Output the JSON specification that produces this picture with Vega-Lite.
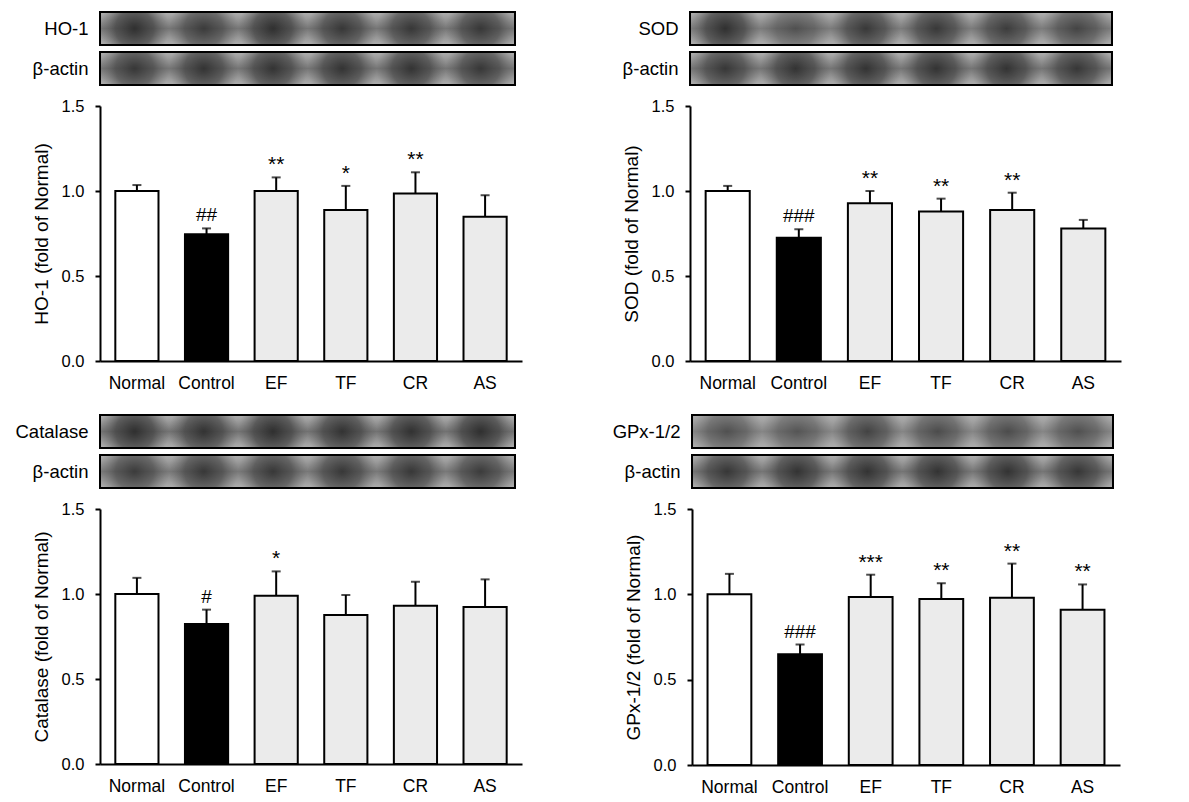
{
  "$schema": "https://vega.github.io/schema/vega-lite/v6.json",
  "padding": {"left": 14, "top": 11, "right": 5, "bottom": 5},
  "background": "white",
  "config": {
    "font": "Liberation Sans",
    "view": {"stroke": null},
    "axis": {"labelColor": "black", "titleColor": "black", "domainColor": "black", "tickColor": "black", "grid": false, "labelFont": "Liberation Sans", "titleFont": "Liberation Sans"}
  },
  "datasets": {
    "bars": [
      {"panel": "HO-1", "group": "Normal", "mean": 1.0, "upper": 1.035, "sig": ""},
      {"panel": "HO-1", "group": "Control", "mean": 0.745, "upper": 0.78, "sig": "##"},
      {"panel": "HO-1", "group": "EF", "mean": 1.0, "upper": 1.08, "sig": "**"},
      {"panel": "HO-1", "group": "TF", "mean": 0.888, "upper": 1.03, "sig": "*"},
      {"panel": "HO-1", "group": "CR", "mean": 0.985, "upper": 1.11, "sig": "**"},
      {"panel": "HO-1", "group": "AS", "mean": 0.848, "upper": 0.975, "sig": ""},
      {"panel": "SOD", "group": "Normal", "mean": 1.0, "upper": 1.03, "sig": ""},
      {"panel": "SOD", "group": "Control", "mean": 0.725, "upper": 0.775, "sig": "###"},
      {"panel": "SOD", "group": "EF", "mean": 0.928, "upper": 1.0, "sig": "**"},
      {"panel": "SOD", "group": "TF", "mean": 0.88, "upper": 0.955, "sig": "**"},
      {"panel": "SOD", "group": "CR", "mean": 0.888, "upper": 0.99, "sig": "**"},
      {"panel": "SOD", "group": "AS", "mean": 0.78, "upper": 0.83, "sig": ""},
      {"panel": "Catalase", "group": "Normal", "mean": 1.0, "upper": 1.095, "sig": ""},
      {"panel": "Catalase", "group": "Control", "mean": 0.824, "upper": 0.908, "sig": "#"},
      {"panel": "Catalase", "group": "EF", "mean": 0.99, "upper": 1.133, "sig": "*"},
      {"panel": "Catalase", "group": "TF", "mean": 0.876, "upper": 0.994, "sig": ""},
      {"panel": "Catalase", "group": "CR", "mean": 0.931, "upper": 1.072, "sig": ""},
      {"panel": "Catalase", "group": "AS", "mean": 0.924, "upper": 1.086, "sig": ""},
      {"panel": "GPx-1/2", "group": "Normal", "mean": 1.0, "upper": 1.12, "sig": ""},
      {"panel": "GPx-1/2", "group": "Control", "mean": 0.649, "upper": 0.706, "sig": "###"},
      {"panel": "GPx-1/2", "group": "EF", "mean": 0.985, "upper": 1.115, "sig": "***"},
      {"panel": "GPx-1/2", "group": "TF", "mean": 0.972, "upper": 1.065, "sig": "**"},
      {"panel": "GPx-1/2", "group": "CR", "mean": 0.98, "upper": 1.18, "sig": "**"},
      {"panel": "GPx-1/2", "group": "AS", "mean": 0.91, "upper": 1.058, "sig": "**"}
    ],
    "blots": [
      {"panel": "HO-1", "strip": "HO-1", "lane": "Normal", "intensity": 0.95},
      {"panel": "HO-1", "strip": "HO-1", "lane": "Control", "intensity": 0.8},
      {"panel": "HO-1", "strip": "HO-1", "lane": "EF", "intensity": 0.95},
      {"panel": "HO-1", "strip": "HO-1", "lane": "TF", "intensity": 0.85},
      {"panel": "HO-1", "strip": "HO-1", "lane": "CR", "intensity": 0.85},
      {"panel": "HO-1", "strip": "HO-1", "lane": "AS", "intensity": 0.85},
      {"panel": "HO-1", "strip": "β-actin", "lane": "Normal", "intensity": 0.85},
      {"panel": "HO-1", "strip": "β-actin", "lane": "Control", "intensity": 0.9},
      {"panel": "HO-1", "strip": "β-actin", "lane": "EF", "intensity": 0.9},
      {"panel": "HO-1", "strip": "β-actin", "lane": "TF", "intensity": 0.9},
      {"panel": "HO-1", "strip": "β-actin", "lane": "CR", "intensity": 0.9},
      {"panel": "HO-1", "strip": "β-actin", "lane": "AS", "intensity": 0.85},
      {"panel": "SOD", "strip": "SOD", "lane": "Normal", "intensity": 0.95},
      {"panel": "SOD", "strip": "SOD", "lane": "Control", "intensity": 0.55},
      {"panel": "SOD", "strip": "SOD", "lane": "EF", "intensity": 0.85},
      {"panel": "SOD", "strip": "SOD", "lane": "TF", "intensity": 0.85},
      {"panel": "SOD", "strip": "SOD", "lane": "CR", "intensity": 0.8},
      {"panel": "SOD", "strip": "SOD", "lane": "AS", "intensity": 0.7},
      {"panel": "SOD", "strip": "β-actin", "lane": "Normal", "intensity": 0.85},
      {"panel": "SOD", "strip": "β-actin", "lane": "Control", "intensity": 0.9},
      {"panel": "SOD", "strip": "β-actin", "lane": "EF", "intensity": 0.9},
      {"panel": "SOD", "strip": "β-actin", "lane": "TF", "intensity": 0.9},
      {"panel": "SOD", "strip": "β-actin", "lane": "CR", "intensity": 0.9},
      {"panel": "SOD", "strip": "β-actin", "lane": "AS", "intensity": 0.85},
      {"panel": "Catalase", "strip": "Catalase", "lane": "Normal", "intensity": 0.95},
      {"panel": "Catalase", "strip": "Catalase", "lane": "Control", "intensity": 0.9},
      {"panel": "Catalase", "strip": "Catalase", "lane": "EF", "intensity": 0.95},
      {"panel": "Catalase", "strip": "Catalase", "lane": "TF", "intensity": 0.9},
      {"panel": "Catalase", "strip": "Catalase", "lane": "CR", "intensity": 0.92},
      {"panel": "Catalase", "strip": "Catalase", "lane": "AS", "intensity": 0.95},
      {"panel": "Catalase", "strip": "β-actin", "lane": "Normal", "intensity": 0.8},
      {"panel": "Catalase", "strip": "β-actin", "lane": "Control", "intensity": 0.85},
      {"panel": "Catalase", "strip": "β-actin", "lane": "EF", "intensity": 0.85},
      {"panel": "Catalase", "strip": "β-actin", "lane": "TF", "intensity": 0.85},
      {"panel": "Catalase", "strip": "β-actin", "lane": "CR", "intensity": 0.85},
      {"panel": "Catalase", "strip": "β-actin", "lane": "AS", "intensity": 0.8},
      {"panel": "GPx-1/2", "strip": "GPx-1/2", "lane": "Normal", "intensity": 0.6},
      {"panel": "GPx-1/2", "strip": "GPx-1/2", "lane": "Control", "intensity": 0.55},
      {"panel": "GPx-1/2", "strip": "GPx-1/2", "lane": "EF", "intensity": 0.75},
      {"panel": "GPx-1/2", "strip": "GPx-1/2", "lane": "TF", "intensity": 0.65},
      {"panel": "GPx-1/2", "strip": "GPx-1/2", "lane": "CR", "intensity": 0.65},
      {"panel": "GPx-1/2", "strip": "GPx-1/2", "lane": "AS", "intensity": 0.6},
      {"panel": "GPx-1/2", "strip": "β-actin", "lane": "Normal", "intensity": 0.85},
      {"panel": "GPx-1/2", "strip": "β-actin", "lane": "Control", "intensity": 0.9},
      {"panel": "GPx-1/2", "strip": "β-actin", "lane": "EF", "intensity": 0.9},
      {"panel": "GPx-1/2", "strip": "β-actin", "lane": "TF", "intensity": 0.9},
      {"panel": "GPx-1/2", "strip": "β-actin", "lane": "CR", "intensity": 0.9},
      {"panel": "GPx-1/2", "strip": "β-actin", "lane": "AS", "intensity": 0.85}
    ]
  },
  "spacing": 22,
  "vconcat": [
    {
      "columns": 2,
      "bounds": "flush",
      "spacing": {"row": 21, "column": 168},
      "concat": [
        {
          "data": {"name": "blots"},
          "transform": [{"filter": "datum.panel === 'HO-1'"}],
          "width": 415, "height": 73,
          "encoding": {"y": {"field": "strip", "type": "nominal", "scale": {"domain": ["HO-1", "β-actin"], "paddingInner": 0.175, "paddingOuter": 0}, "axis": {"title": null, "domain": false, "ticks": false, "labelFontSize": 18.5, "labelPadding": 12}}},
          "layer": [
            {"mark": {"type": "rect", "fill": "#b0b0b0"}},
            {"transform": [{"aggregate": [{"op": "mean", "field": "intensity", "as": "intensity"}], "groupby": ["strip"]}],
             "mark": {"type": "rect", "fill": {"gradient": "linear", "x1": 0, "y1": 0, "x2": 0, "y2": 1, "stops": [{"offset": 0, "color": "rgba(70,70,70,0)"}, {"offset": 0.5, "color": "rgba(55,55,55,0.55)"}, {"offset": 1, "color": "rgba(70,70,70,0)"}]}},
             "encoding": {"opacity": {"field": "intensity", "type": "quantitative", "scale": {"domain": [0, 1], "range": [0, 1]}, "legend": null}}},
            {"mark": {"type": "rect", "fill": {"gradient": "radial", "x1": 0.5, "y1": 0.5, "r1": 0, "x2": 0.5, "y2": 0.5, "r2": 0.5, "stops": [{"offset": 0, "color": "rgba(40,40,40,0.95)"}, {"offset": 0.55, "color": "rgba(60,60,60,0.7)"}, {"offset": 1, "color": "rgba(90,90,90,0)"}]}},
             "encoding": {"x": {"field": "lane", "type": "nominal", "sort": ["Normal", "Control", "EF", "TF", "CR", "AS"], "scale": {"paddingInner": 0, "paddingOuter": 0}, "axis": null}, "opacity": {"field": "intensity", "type": "quantitative", "scale": {"domain": [0, 1], "range": [0, 1]}, "legend": null}}},
            {"mark": {"type": "rect", "fillOpacity": 0, "stroke": "black", "strokeWidth": 2}}
          ]
        },
        {
          "data": {"name": "blots"},
          "transform": [{"filter": "datum.panel === 'SOD'"}],
          "width": 422, "height": 73,
          "encoding": {"y": {"field": "strip", "type": "nominal", "scale": {"domain": ["SOD", "β-actin"], "paddingInner": 0.175, "paddingOuter": 0}, "axis": {"title": null, "domain": false, "ticks": false, "labelFontSize": 18.5, "labelPadding": 12}}},
          "layer": [
            {"mark": {"type": "rect", "fill": "#b0b0b0"}},
            {"transform": [{"aggregate": [{"op": "mean", "field": "intensity", "as": "intensity"}], "groupby": ["strip"]}],
             "mark": {"type": "rect", "fill": {"gradient": "linear", "x1": 0, "y1": 0, "x2": 0, "y2": 1, "stops": [{"offset": 0, "color": "rgba(70,70,70,0)"}, {"offset": 0.5, "color": "rgba(55,55,55,0.55)"}, {"offset": 1, "color": "rgba(70,70,70,0)"}]}},
             "encoding": {"opacity": {"field": "intensity", "type": "quantitative", "scale": {"domain": [0, 1], "range": [0, 1]}, "legend": null}}},
            {"mark": {"type": "rect", "fill": {"gradient": "radial", "x1": 0.5, "y1": 0.5, "r1": 0, "x2": 0.5, "y2": 0.5, "r2": 0.5, "stops": [{"offset": 0, "color": "rgba(40,40,40,0.95)"}, {"offset": 0.55, "color": "rgba(60,60,60,0.7)"}, {"offset": 1, "color": "rgba(90,90,90,0)"}]}},
             "encoding": {"x": {"field": "lane", "type": "nominal", "sort": ["Normal", "Control", "EF", "TF", "CR", "AS"], "scale": {"paddingInner": 0, "paddingOuter": 0}, "axis": null}, "opacity": {"field": "intensity", "type": "quantitative", "scale": {"domain": [0, 1], "range": [0, 1]}, "legend": null}}},
            {"mark": {"type": "rect", "fillOpacity": 0, "stroke": "black", "strokeWidth": 2}}
          ]
        },
        {
          "data": {"name": "bars"},
          "transform": [{"filter": "datum.panel === 'HO-1'"}],
          "width": 422, "height": 255,
          "encoding": {"x": {"field": "group", "type": "nominal", "sort": ["Normal", "Control", "EF", "TF", "CR", "AS"], "scale": {"paddingInner": 0.38, "paddingOuter": 0.22}, "axis": {"title": null, "ticks": false, "labelAngle": 0, "labelFontSize": 17.5, "labelPadding": 13, "domainWidth": 2}}},
          "layer": [
            {"mark": {"type": "bar", "stroke": "black", "strokeWidth": 2},
             "encoding": {"y": {"field": "mean", "type": "quantitative", "scale": {"domain": [0, 1.5], "nice": false}, "axis": {"title": "HO-1 (fold of Normal)", "values": [0, 0.5, 1, 1.5], "format": ".1f", "tickSize": 5, "tickWidth": 2, "domainWidth": 2, "labelFontSize": 16.5, "labelPadding": 11, "titleFontSize": 19, "titleFontWeight": "normal", "titlePadding": 10}},
              "fill": {"field": "group", "type": "nominal", "scale": {"domain": ["Normal", "Control", "EF", "TF", "CR", "AS"], "range": ["white", "black", "#ebebeb", "#ebebeb", "#ebebeb", "#ebebeb"]}, "legend": null}}},
            {"mark": {"type": "rule", "strokeWidth": 2, "color": "black"}, "encoding": {"y": {"field": "mean", "type": "quantitative"}, "y2": {"field": "upper"}}},
            {"mark": {"type": "tick", "size": 9, "thickness": 2, "color": "black"}, "encoding": {"y": {"field": "upper", "type": "quantitative"}}},
            {"transform": [{"filter": "indexof(datum.sig, '#') >= 0"}], "mark": {"type": "text", "baseline": "bottom", "dy": -3, "fontSize": 19, "color": "black"}, "encoding": {"y": {"field": "upper", "type": "quantitative"}, "text": {"field": "sig"}}},
            {"transform": [{"filter": "indexof(datum.sig, '*') >= 0"}], "mark": {"type": "text", "baseline": "bottom", "dy": -2, "fontSize": 21, "color": "black"}, "encoding": {"y": {"field": "upper", "type": "quantitative"}, "text": {"field": "sig"}}}
          ]
        },
        {
          "data": {"name": "bars"},
          "transform": [{"filter": "datum.panel === 'SOD'"}],
          "width": 431, "height": 255,
          "encoding": {"x": {"field": "group", "type": "nominal", "sort": ["Normal", "Control", "EF", "TF", "CR", "AS"], "scale": {"paddingInner": 0.38, "paddingOuter": 0.22}, "axis": {"title": null, "ticks": false, "labelAngle": 0, "labelFontSize": 17.5, "labelPadding": 13, "domainWidth": 2}}},
          "layer": [
            {"mark": {"type": "bar", "stroke": "black", "strokeWidth": 2},
             "encoding": {"y": {"field": "mean", "type": "quantitative", "scale": {"domain": [0, 1.5], "nice": false}, "axis": {"title": "SOD (fold of Normal)", "values": [0, 0.5, 1, 1.5], "format": ".1f", "tickSize": 5, "tickWidth": 2, "domainWidth": 2, "labelFontSize": 16.5, "labelPadding": 11, "titleFontSize": 19, "titleFontWeight": "normal", "titlePadding": 10}},
              "fill": {"field": "group", "type": "nominal", "scale": {"domain": ["Normal", "Control", "EF", "TF", "CR", "AS"], "range": ["white", "black", "#ebebeb", "#ebebeb", "#ebebeb", "#ebebeb"]}, "legend": null}}},
            {"mark": {"type": "rule", "strokeWidth": 2, "color": "black"}, "encoding": {"y": {"field": "mean", "type": "quantitative"}, "y2": {"field": "upper"}}},
            {"mark": {"type": "tick", "size": 9, "thickness": 2, "color": "black"}, "encoding": {"y": {"field": "upper", "type": "quantitative"}}},
            {"transform": [{"filter": "indexof(datum.sig, '#') >= 0"}], "mark": {"type": "text", "baseline": "bottom", "dy": -3, "fontSize": 19, "color": "black"}, "encoding": {"y": {"field": "upper", "type": "quantitative"}, "text": {"field": "sig"}}},
            {"transform": [{"filter": "indexof(datum.sig, '*') >= 0"}], "mark": {"type": "text", "baseline": "bottom", "dy": -2, "fontSize": 21, "color": "black"}, "encoding": {"y": {"field": "upper", "type": "quantitative"}, "text": {"field": "sig"}}}
          ]
        }
      ]
    },
    {
      "columns": 2,
      "bounds": "flush",
      "spacing": {"row": 21, "column": 170},
      "concat": [
        {
          "data": {"name": "blots"},
          "transform": [{"filter": "datum.panel === 'Catalase'"}],
          "width": 415, "height": 73,
          "encoding": {"y": {"field": "strip", "type": "nominal", "scale": {"domain": ["Catalase", "β-actin"], "paddingInner": 0.175, "paddingOuter": 0}, "axis": {"title": null, "domain": false, "ticks": false, "labelFontSize": 18.5, "labelPadding": 12}}},
          "layer": [
            {"mark": {"type": "rect", "fill": "#b0b0b0"}},
            {"transform": [{"aggregate": [{"op": "mean", "field": "intensity", "as": "intensity"}], "groupby": ["strip"]}],
             "mark": {"type": "rect", "fill": {"gradient": "linear", "x1": 0, "y1": 0, "x2": 0, "y2": 1, "stops": [{"offset": 0, "color": "rgba(70,70,70,0)"}, {"offset": 0.5, "color": "rgba(55,55,55,0.55)"}, {"offset": 1, "color": "rgba(70,70,70,0)"}]}},
             "encoding": {"opacity": {"field": "intensity", "type": "quantitative", "scale": {"domain": [0, 1], "range": [0, 1]}, "legend": null}}},
            {"mark": {"type": "rect", "fill": {"gradient": "radial", "x1": 0.5, "y1": 0.5, "r1": 0, "x2": 0.5, "y2": 0.5, "r2": 0.5, "stops": [{"offset": 0, "color": "rgba(40,40,40,0.95)"}, {"offset": 0.55, "color": "rgba(60,60,60,0.7)"}, {"offset": 1, "color": "rgba(90,90,90,0)"}]}},
             "encoding": {"x": {"field": "lane", "type": "nominal", "sort": ["Normal", "Control", "EF", "TF", "CR", "AS"], "scale": {"paddingInner": 0, "paddingOuter": 0}, "axis": null}, "opacity": {"field": "intensity", "type": "quantitative", "scale": {"domain": [0, 1], "range": [0, 1]}, "legend": null}}},
            {"mark": {"type": "rect", "fillOpacity": 0, "stroke": "black", "strokeWidth": 2}}
          ]
        },
        {
          "data": {"name": "blots"},
          "transform": [{"filter": "datum.panel === 'GPx-1/2'"}],
          "width": 421, "height": 73,
          "encoding": {"y": {"field": "strip", "type": "nominal", "scale": {"domain": ["GPx-1/2", "β-actin"], "paddingInner": 0.175, "paddingOuter": 0}, "axis": {"title": null, "domain": false, "ticks": false, "labelFontSize": 18.5, "labelPadding": 12}}},
          "layer": [
            {"mark": {"type": "rect", "fill": "#b0b0b0"}},
            {"transform": [{"aggregate": [{"op": "mean", "field": "intensity", "as": "intensity"}], "groupby": ["strip"]}],
             "mark": {"type": "rect", "fill": {"gradient": "linear", "x1": 0, "y1": 0, "x2": 0, "y2": 1, "stops": [{"offset": 0, "color": "rgba(70,70,70,0)"}, {"offset": 0.5, "color": "rgba(55,55,55,0.55)"}, {"offset": 1, "color": "rgba(70,70,70,0)"}]}},
             "encoding": {"opacity": {"field": "intensity", "type": "quantitative", "scale": {"domain": [0, 1], "range": [0, 1]}, "legend": null}}},
            {"mark": {"type": "rect", "fill": {"gradient": "radial", "x1": 0.5, "y1": 0.5, "r1": 0, "x2": 0.5, "y2": 0.5, "r2": 0.5, "stops": [{"offset": 0, "color": "rgba(40,40,40,0.95)"}, {"offset": 0.55, "color": "rgba(60,60,60,0.7)"}, {"offset": 1, "color": "rgba(90,90,90,0)"}]}},
             "encoding": {"x": {"field": "lane", "type": "nominal", "sort": ["Normal", "Control", "EF", "TF", "CR", "AS"], "scale": {"paddingInner": 0, "paddingOuter": 0}, "axis": null}, "opacity": {"field": "intensity", "type": "quantitative", "scale": {"domain": [0, 1], "range": [0, 1]}, "legend": null}}},
            {"mark": {"type": "rect", "fillOpacity": 0, "stroke": "black", "strokeWidth": 2}}
          ]
        },
        {
          "data": {"name": "bars"},
          "transform": [{"filter": "datum.panel === 'Catalase'"}],
          "width": 422, "height": 255,
          "encoding": {"x": {"field": "group", "type": "nominal", "sort": ["Normal", "Control", "EF", "TF", "CR", "AS"], "scale": {"paddingInner": 0.38, "paddingOuter": 0.22}, "axis": {"title": null, "ticks": false, "labelAngle": 0, "labelFontSize": 17.5, "labelPadding": 13, "domainWidth": 2}}},
          "layer": [
            {"mark": {"type": "bar", "stroke": "black", "strokeWidth": 2},
             "encoding": {"y": {"field": "mean", "type": "quantitative", "scale": {"domain": [0, 1.5], "nice": false}, "axis": {"title": "Catalase (fold of Normal)", "values": [0, 0.5, 1, 1.5], "format": ".1f", "tickSize": 5, "tickWidth": 2, "domainWidth": 2, "labelFontSize": 16.5, "labelPadding": 11, "titleFontSize": 19, "titleFontWeight": "normal", "titlePadding": 10}},
              "fill": {"field": "group", "type": "nominal", "scale": {"domain": ["Normal", "Control", "EF", "TF", "CR", "AS"], "range": ["white", "black", "#ebebeb", "#ebebeb", "#ebebeb", "#ebebeb"]}, "legend": null}}},
            {"mark": {"type": "rule", "strokeWidth": 2, "color": "black"}, "encoding": {"y": {"field": "mean", "type": "quantitative"}, "y2": {"field": "upper"}}},
            {"mark": {"type": "tick", "size": 9, "thickness": 2, "color": "black"}, "encoding": {"y": {"field": "upper", "type": "quantitative"}}},
            {"transform": [{"filter": "indexof(datum.sig, '#') >= 0"}], "mark": {"type": "text", "baseline": "bottom", "dy": -3, "fontSize": 19, "color": "black"}, "encoding": {"y": {"field": "upper", "type": "quantitative"}, "text": {"field": "sig"}}},
            {"transform": [{"filter": "indexof(datum.sig, '*') >= 0"}], "mark": {"type": "text", "baseline": "bottom", "dy": -2, "fontSize": 21, "color": "black"}, "encoding": {"y": {"field": "upper", "type": "quantitative"}, "text": {"field": "sig"}}}
          ]
        },
        {
          "data": {"name": "bars"},
          "transform": [{"filter": "datum.panel === 'GPx-1/2'"}],
          "width": 428, "height": 256,
          "encoding": {"x": {"field": "group", "type": "nominal", "sort": ["Normal", "Control", "EF", "TF", "CR", "AS"], "scale": {"paddingInner": 0.38, "paddingOuter": 0.22}, "axis": {"title": null, "ticks": false, "labelAngle": 0, "labelFontSize": 17.5, "labelPadding": 13, "domainWidth": 2}}},
          "layer": [
            {"mark": {"type": "bar", "stroke": "black", "strokeWidth": 2},
             "encoding": {"y": {"field": "mean", "type": "quantitative", "scale": {"domain": [0, 1.5], "nice": false}, "axis": {"title": "GPx-1/2 (fold of Normal)", "values": [0, 0.5, 1, 1.5], "format": ".1f", "tickSize": 5, "tickWidth": 2, "domainWidth": 2, "labelFontSize": 16.5, "labelPadding": 11, "titleFontSize": 19, "titleFontWeight": "normal", "titlePadding": 10}},
              "fill": {"field": "group", "type": "nominal", "scale": {"domain": ["Normal", "Control", "EF", "TF", "CR", "AS"], "range": ["white", "black", "#ebebeb", "#ebebeb", "#ebebeb", "#ebebeb"]}, "legend": null}}},
            {"mark": {"type": "rule", "strokeWidth": 2, "color": "black"}, "encoding": {"y": {"field": "mean", "type": "quantitative"}, "y2": {"field": "upper"}}},
            {"mark": {"type": "tick", "size": 9, "thickness": 2, "color": "black"}, "encoding": {"y": {"field": "upper", "type": "quantitative"}}},
            {"transform": [{"filter": "indexof(datum.sig, '#') >= 0"}], "mark": {"type": "text", "baseline": "bottom", "dy": -3, "fontSize": 19, "color": "black"}, "encoding": {"y": {"field": "upper", "type": "quantitative"}, "text": {"field": "sig"}}},
            {"transform": [{"filter": "indexof(datum.sig, '*') >= 0"}], "mark": {"type": "text", "baseline": "bottom", "dy": -2, "fontSize": 21, "color": "black"}, "encoding": {"y": {"field": "upper", "type": "quantitative"}, "text": {"field": "sig"}}}
          ]
        }
      ]
    }
  ]
}
